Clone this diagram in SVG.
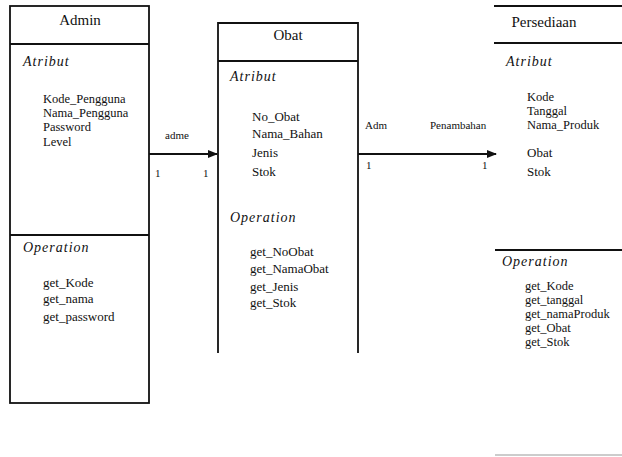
<svg xmlns="http://www.w3.org/2000/svg" width="622" height="457" viewBox="0 0 622 457">
<defs>
<style>
text{font-family:"Liberation Serif","Times New Roman",serif;fill:#111}
.t{font-size:13px}
.c{font-size:12.5px}
.h{font-size:14px;font-style:italic;letter-spacing:1px}
.ttl{font-size:15px;text-anchor:middle}
.s{font-size:11px}
.ln{stroke:#111;stroke-width:1.8;fill:none}
</style>
<marker id="ah" markerWidth="10" markerHeight="8" refX="9" refY="4" orient="auto" markerUnits="userSpaceOnUse">
<path d="M0,0 L10,4 L0,8 Z" fill="#111"/>
</marker>
</defs>
<rect width="622" height="457" fill="#fff"/>

<g id="admin">
<rect class="ln" x="10" y="6" width="139" height="397"/>
<line class="ln" x1="10" y1="44" x2="149" y2="44"/>
<line class="ln" x1="10" y1="235" x2="149" y2="235"/>
<text class="ttl" x="80" y="25">Admin</text>
<text class="h" x="23" y="66">Atribut</text>
<text class="c" x="43" y="103">Kode_Pengguna</text>
<text class="c" x="43" y="117">Nama_Pengguna</text>
<text class="c" x="43" y="131">Password</text>
<text class="c" x="43" y="146">Level</text>
<text class="h" x="23" y="252">Operation</text>
<text class="t" x="43" y="287">get_Kode</text>
<text class="t" x="43" y="303">get_nama</text>
<text class="t" x="43" y="321">get_password</text>
</g>

<g id="obat">
<path class="ln" d="M218,353 V23 H358 V353"/>
<line class="ln" x1="218" y1="61" x2="358" y2="61"/>
<text class="ttl" x="288" y="40">Obat</text>
<text class="h" x="230" y="81">Atribut</text>
<text class="t" x="252" y="121">No_Obat</text>
<text class="t" x="252" y="138">Nama_Bahan</text>
<text class="t" x="252" y="157">Jenis</text>
<text class="t" x="252" y="176">Stok</text>
<text class="h" x="230" y="222">Operation</text>
<text class="t" x="250" y="256">get_NoObat</text>
<text class="t" x="250" y="273">get_NamaObat</text>
<text class="t" x="250" y="291">get_Jenis</text>
<text class="t" x="250" y="307">get_Stok</text>
</g>

<g id="persediaan">
<line class="ln" x1="494" y1="6" x2="622" y2="6"/>
<line class="ln" x1="494" y1="43" x2="622" y2="43"/>
<line class="ln" x1="495" y1="250" x2="622" y2="250" stroke-width="1.4"/>
<line x1="495" y1="455" x2="622" y2="455" stroke="#999" stroke-width="1.2"/>
<text class="ttl" x="544" y="27">Persediaan</text>
<text class="h" x="506" y="66">Atribut</text>
<text class="c" x="527" y="101">Kode</text>
<text class="c" x="527" y="115">Tanggal</text>
<text class="c" x="527" y="129">Nama_Produk</text>
<text class="t" x="527" y="157">Obat</text>
<text class="t" x="527" y="176">Stok</text>
<text class="h" x="502" y="266">Operation</text>
<text class="c" x="525" y="290">get_Kode</text>
<text class="c" x="525" y="304">get_tanggal</text>
<text class="c" x="525" y="318">get_namaProduk</text>
<text class="c" x="525" y="332">get_Obat</text>
<text class="c" x="525" y="346">get_Stok</text>
</g>

<g id="connectors">
<line class="ln" x1="149" y1="154" x2="217" y2="154" marker-end="url(#ah)"/>
<line class="ln" x1="358" y1="154" x2="496" y2="154" marker-end="url(#ah)"/>
<text class="s" x="165" y="139">adme</text>
<text class="s" x="155" y="177">1</text>
<text class="s" x="203" y="177">1</text>
<text class="s" x="365" y="129">Adm</text>
<text class="s" x="430" y="129">Penambahan</text>
<text class="s" x="366" y="169">1</text>
<text class="s" x="482" y="169">1</text>
</g>
</svg>
